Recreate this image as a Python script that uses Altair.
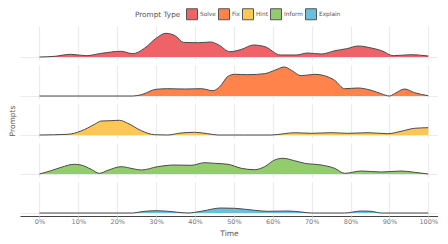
import altair as alt
import pandas as pd

types = ["Solve", "Fix", "Hint", "Inform", "Explain"]
colors = ["#EF6368", "#FF834B", "#FDC754", "#93CC70", "#6CBEDD"]

solve_x = [0, 4, 8, 12, 16, 21, 24, 27, 30, 32.5, 35, 37, 41, 44, 46, 49, 52, 55, 58, 62, 66, 69, 72.5, 76, 79, 82, 85, 88, 91, 95.5, 100]
solve_y = [0, 0.7, 2.7, 1.3, 3.7, 5.7, 3.3, 8.7, 18.7, 23.7, 21, 14.7, 14.3, 15, 12.3, 5.3, 7.7, 12, 10.3, 2, 2, 4, 3, 6.3, 8.3, 11, 9.3, 6.3, 1.3, 2.3, 1]

fix_x = [0, 24, 26.2, 30, 33, 37.3, 41.6, 44.6, 46.3, 48.5, 50.2, 53.6, 57.9, 60.5, 63, 64.8, 67.3, 70.8, 73.3, 75.9, 78.5, 81.9, 85.3, 87.9, 90, 91.3, 93.9, 96.5, 100]
fix_y = [0, 0, 1.3, 6.7, 7.3, 7, 7.3, 5.3, 9, 19.7, 21.7, 21.3, 22.3, 25.7, 29, 25.7, 20.3, 21.7, 20.3, 15.7, 7.3, 8, 5.7, 2.3, 0, 2.3, 7, 3.3, 0.3]

hint_x = [0, 7.3, 10.7, 14.2, 15.9, 18.4, 20.6, 22.7, 26.2, 29.6, 33, 36.4, 39.9, 43.3, 45.9, 52.7, 59.6, 63, 65.6, 69.9, 75, 79.3, 84.5, 89.6, 93, 96.5, 100]
hint_y = [0, 0.7, 4, 10.7, 14, 14.3, 14.7, 11.7, 4.3, 0.3, 0, 2, 2.7, 1.3, 0, 0, 0, 1.3, 2.3, 1.7, 2.3, 1.7, 2.3, 1.3, 3.7, 6.7, 7.3]

inform_x = [0, 3, 5.6, 9, 10.7, 13.3, 15.4, 17.6, 21, 24.4, 26.2, 30.4, 34.7, 39, 42.5, 45, 48.5, 51.9, 55.3, 57.9, 60.5, 62.6, 65.6, 68.2, 72.5, 75.9, 78.5, 82.8, 87.9, 93, 96.5, 100]
inform_y = [0, 3.3, 6.7, 9.7, 9, 4.7, 0.7, 3.7, 7.3, 5, 4, 7.3, 9, 8.7, 11.3, 10.7, 9.7, 5.7, 4.3, 7.3, 14, 15.7, 13.3, 10.7, 9, 5.7, 0.7, 3, 2, 3, 1.7, 0]

explain_x = [0, 24, 26.2, 30, 33, 38.2, 41.6, 46.7, 50.2, 55.3, 58.7, 63.9, 67.3, 69.9, 78.5, 82.8, 85.3, 87.9, 100]
explain_y = [0, 0, 1.3, 2.3, 1.7, 0, 1.7, 5, 4.7, 2.7, 1.7, 2, 1, 0, 0, 2, 1.7, 0, 0]

tick_values = [0, 10, 20, 30, 40, 50, 60, 70, 80, 90, 100]

series = {
    "Solve": (solve_x, solve_y),
    "Fix": (fix_x, fix_y),
    "Hint": (hint_x, hint_y),
    "Inform": (inform_x, inform_y),
    "Explain": (explain_x, explain_y),
}
rows = []
for t, (xs, ys) in series.items():
    for x, y in zip(xs, ys):
        rows.append({"type": t, "time": x, "density": y})
df = pd.DataFrame(rows)

FONT = "DejaVu Sans"

x_enc = alt.X("time:Q",
              scale=alt.Scale(domain=[-5, 102.5], nice=False, zero=False),
              axis=alt.Axis(values=tick_values, labelExpr="datum.value + '%'",
                            title="Time", grid=True, gridColor="#ebebeb", gridWidth=1.2,
                            domainColor="#444444", domainWidth=1.2,
                            tickColor="#cccccc", tickSize=2,
                            labelFontSize=6.5, labelColor="#777777", labelFont=FONT,
                            titleFontSize=7.5, titleColor="#555555", titleFont=FONT,
                            titleFontWeight="normal", labelPadding=0, titlePadding=5))
y_enc = alt.Y("density:Q",
              scale=alt.Scale(domain=[-3, 31], nice=False, zero=False),
              axis=alt.Axis(values=[0], grid=True, gridColor="#ebebeb", gridWidth=1.2,
                            labels=False, ticks=False, domain=False, title=None))

area = alt.Chart().mark_area(interpolate="monotone", opacity=1).encode(
    x=x_enc,
    y=y_enc,
    color=alt.Color("type:N",
                    scale=alt.Scale(domain=types, range=colors),
                    sort=types,
                    legend=alt.Legend(title="Prompt Type", orient="none",
                                      direction="horizontal", titleOrient="left",
                                      legendX=115, legendY=-18,
                                      symbolType="square", symbolSize=121,
                                      symbolStrokeColor="#555555", symbolStrokeWidth=1,
                                      symbolOpacity=1,
                                      labelFontSize=5.8, labelColor="#555555", labelFont=FONT,
                                      titleFontSize=7.3, titleColor="#555555", titleFont=FONT,
                                      titleFontWeight="normal", columnPadding=0,
                                      labelOffset=2, titlePadding=5)),
)
line = alt.Chart().mark_line(interpolate="monotone", strokeWidth=1).encode(
    x="time:Q",
    y="density:Q",
    color=alt.value("#4a4a4a"),
)

layered = alt.layer(area, line, data=df).properties(width=418, height=34)

chart = layered.facet(
    row=alt.Row("type:N", sort=types,
                header=alt.Header(labels=False, title="Prompts", titleFontSize=7.5,
                                  titleColor="#555555", titleFont=FONT,
                                  titleFontWeight="normal", titlePadding=-6,
                                  labelPadding=0)),
    spacing=5,
).properties(
    padding={"left": 0, "top": 0, "right": 0, "bottom": 0}
).configure(background="white").configure_view(strokeWidth=0)

chart.save("out.html", embed_options={"renderer": "svg", "actions": False})
